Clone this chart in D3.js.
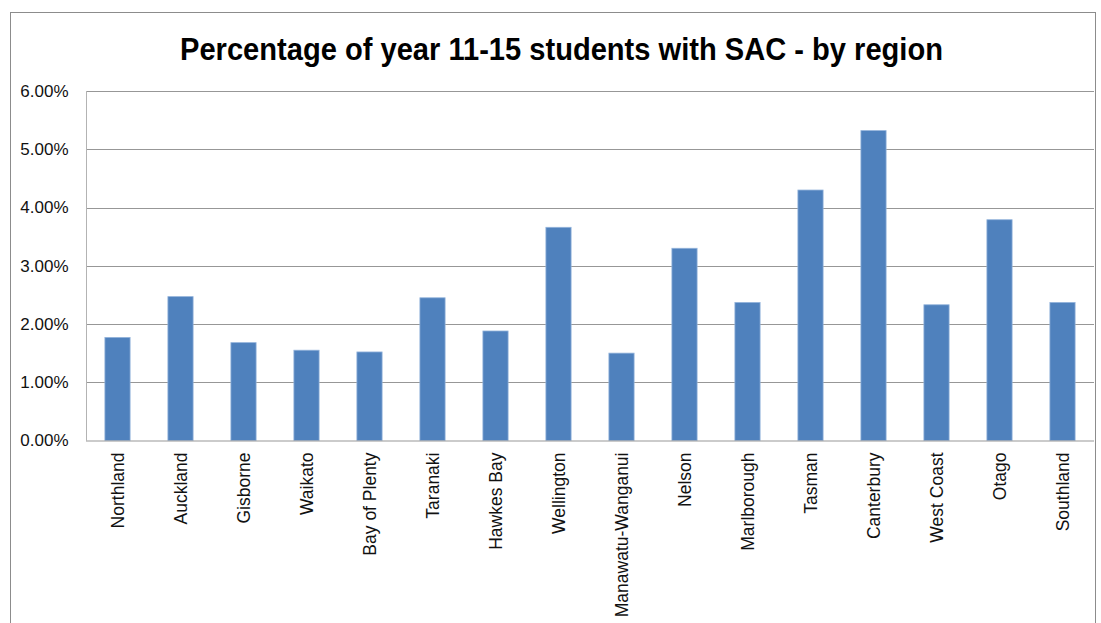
<!DOCTYPE html>
<html>
<head>
<meta charset="utf-8">
<script src="https://cdn.jsdelivr.net/npm/d3@7"></script>
<style>
  html, body { margin: 0; padding: 0; background: #fff; }
  svg { display: block; }
</style>
</head>
<body>
<svg id="chart" width="1101" height="623"></svg>
<script>
// Regions along the x axis
const regions = [
  "Northland", "Auckland", "Gisborne", "Waikato", "Bay of Plenty", "Taranaki",
  "Hawkes Bay", "Wellington", "Manawatu-Wanganui", "Nelson", "Marlborough",
  "Tasman", "Canterbury", "West Coast", "Otago", "Southland"
];
// Share of year 11-15 students with SAC (percent)
const sacPercent = [
  1.77, 2.47, 1.68, 1.55, 1.52, 2.45, 1.88, 3.66,
  1.50, 3.30, 2.37, 4.30, 5.32, 2.33, 3.79, 2.37
];
// Value axis ticks (percent)
const yTicks = [0, 1, 2, 3, 4, 5, 6];
const titleText = "Percentage of year 11-15 students with SAC - by region";

const svg = d3.select("#chart");
const font = "'Liberation Sans', Arial, sans-serif";

// Chart frame
svg.append("rect")
  .attr("x", 10.5).attr("y", 12.5)
  .attr("width", 1085).attr("height", 640)
  .attr("fill", "#fff")
  .attr("stroke", "#8c8c8c")
  .attr("stroke-width", 1);

const plot = { left: 86, right: 1094, top: 91, bottom: 440.5 };

const x = d3.scaleBand()
  .domain(regions)
  .range([plot.left, plot.right])
  .paddingInner(0.6)
  .paddingOuter(0.3);

const y = d3.scaleLinear()
  .domain([0, 6])
  .range([plot.bottom, plot.top]);

// Horizontal gridlines
svg.append("g")
  .selectAll("line")
  .data(yTicks.filter(d => d > 0))
  .join("line")
  .attr("x1", plot.left).attr("x2", plot.right)
  .attr("y1", d => Math.round(y(d)) + 0.5)
  .attr("y2", d => Math.round(y(d)) + 0.5)
  .attr("stroke", "#979797")
  .attr("stroke-width", 1);

// Bars
svg.append("g")
  .selectAll("rect")
  .data(regions.map((r, i) => ({ region: r, value: sacPercent[i] })))
  .join("rect")
  .attr("x", d => x(d.region))
  .attr("y", d => y(d.value))
  .attr("width", x.bandwidth())
  .attr("height", d => y(0) - y(d.value))
  .attr("fill", "#4f81bd")
  .attr("stroke", "#93b3db")
  .attr("stroke-width", 0.8);

// Value axis
const yAxis = d3.axisLeft(y)
  .tickValues(yTicks)
  .tickSize(0)
  .tickPadding(18)
  .tickFormat(d => d.toFixed(2) + "%");

const yg = svg.append("g")
  .attr("transform", `translate(${plot.left + 0.5},0)`)
  .call(yAxis);
yg.select(".domain")
  .attr("stroke", "#b3b3b3")
  .attr("d", `M0,${plot.top}V${plot.bottom}`);
yg.selectAll("text")
  .attr("font-family", font)
  .attr("font-size", 17)
  .attr("fill", "#111");

// Category axis
const xAxis = d3.axisBottom(x).tickSize(0).tickPadding(0);
const xg = svg.append("g")
  .attr("transform", `translate(0,${plot.bottom})`)
  .call(xAxis);
xg.select(".domain")
  .attr("stroke", "#979797")
  .attr("d", `M${plot.left},0.5H${plot.right}`);
xg.selectAll("text")
  .attr("font-family", font)
  .attr("font-size", 17.5)
  .attr("fill", "#111")
  .attr("text-anchor", "end")
  .attr("dy", "0.35em")
  .attr("transform", "translate(0,12) rotate(-90)")
  .attr("x", 0)
  .attr("y", 0);

// Title
svg.append("text")
  .attr("x", 561.5)
  .attr("y", 60)
  .attr("text-anchor", "middle")
  .attr("font-family", "'Liberation Sans Narrow', 'Liberation Sans', Arial, sans-serif")
  .attr("font-weight", "bold")
  .attr("font-size", 31)
  .attr("textLength", 763)
  .attr("lengthAdjust", "spacingAndGlyphs")
  .attr("fill", "#000")
  .text(titleText);
</script>
</body>
</html>
